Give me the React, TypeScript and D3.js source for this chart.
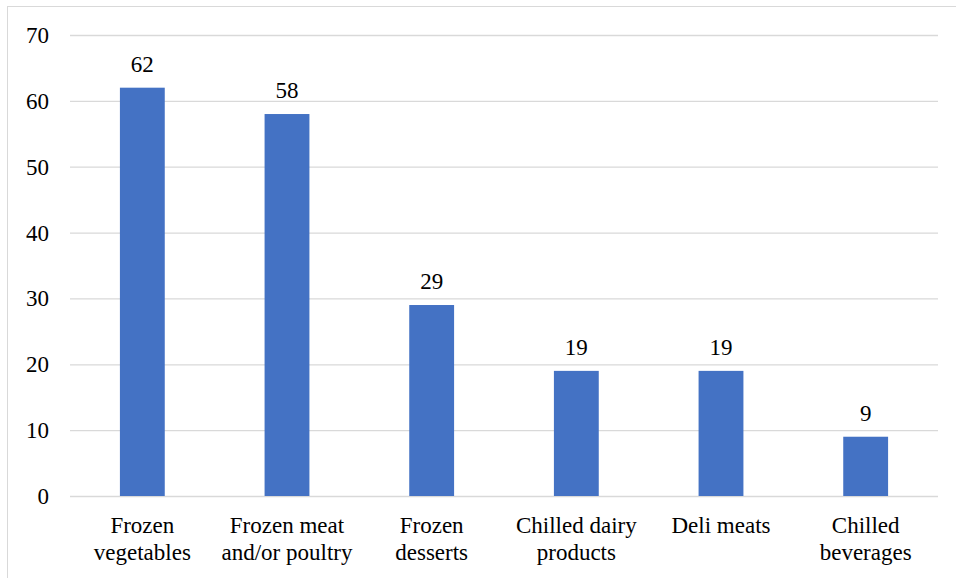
import React from 'react';
import * as d3 from 'd3';

// chart data
const categories = [
  ['Frozen', 'vegetables'],
  ['Frozen meat', 'and/or poultry'],
  ['Frozen', 'desserts'],
  ['Chilled dairy', 'products'],
  ['Deli meats'],
  ['Chilled', 'beverages'],
];
const values = [62, 58, 29, 19, 19, 9];
const yTicks = [0, 10, 20, 30, 40, 50, 60, 70];

const W = 956;
const H = 578;
const margin = { top: 35, right: 18, bottom: 82, left: 70 };
const width = W - margin.left - margin.right;
const height = H - margin.top - margin.bottom;
const font = 'Liberation Serif';
const fs = 23;

const App = () => {
  const keys = categories.map((c) => c.join(' '));
  const x = d3.scaleBand().domain(keys).range([0, width]).paddingInner(0.69).paddingOuter(0.345);
  const y = d3.scaleLinear().domain([0, 70]).range([height, 0]);

  return (
    <svg width={W} height={H} style={{ position: 'absolute', left: 0, top: 0, background: 'white' }}>
      <style>{`svg text, svg tspan { font-family: 'Liberation Serif', 'Times New Roman', serif !important; }`}</style>
      {/* outer border */}
      <rect x={7.5} y={6.5} width={960} height={600} fill="white" stroke="#d9d9d9" />
      <g transform={`translate(${margin.left},${margin.top})`}>
        {/* gridlines */}
        {yTicks.map((d) => (
          <line key={'g' + d} x1={0} x2={width} y1={y(d) + 0.5} y2={y(d) + 0.5} stroke="#d9d9d9" strokeWidth={1.3} />
        ))}
        {/* y tick labels */}
        {yTicks.map((d) => (
          <text key={'t' + d} x={-21} y={y(d)} dy="0.35em" textAnchor="end" fontFamily={font} fontSize={fs}>
            {d}
          </text>
        ))}
        {/* bars */}
        {values.map((v, i) => (
          <rect key={'b' + i} x={x(keys[i])} y={y(v)} width={x.bandwidth()} height={y(0) - y(v)} fill="#4472C4" />
        ))}
        {/* value labels */}
        {values.map((v, i) => (
          <text key={'v' + i} x={x(keys[i])! + x.bandwidth() / 2} y={y(v) - 16} textAnchor="middle" fontFamily={font} fontSize={fs}>
            {v}
          </text>
        ))}
        {/* category labels */}
        {categories.map((lines, i) => {
          const cx = x(keys[i])! + x.bandwidth() / 2;
          return lines.map((l, j) => (
            <text key={'c' + i + j} x={cx} y={height + 37 + j * 27} textAnchor="middle" fontFamily={font} fontSize={fs}>
              {l}
            </text>
          ));
        })}
      </g>
    </svg>
  );
};

export default App;
